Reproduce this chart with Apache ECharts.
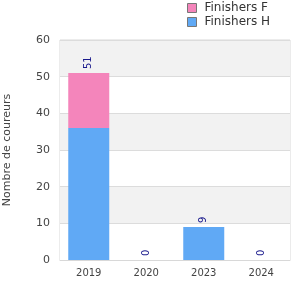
<!DOCTYPE html>
<html>
<head>
<meta charset="utf-8">
<script src="https://cdn.jsdelivr.net/npm/echarts@6/dist/echarts.min.js"></script>
<style>
  html, body { margin: 0; padding: 0; background: #fff; }
  #chart { width: 300px; height: 300px; }
</style>
</head>
<body>
<div id="chart"></div>
<script>
// données
const years = ['2019', '2020', '2023', '2024'];
const finishersH = [36, 0, 9, 0];
const finishersF = [15, 0, 0, 0];
const totals = years.map((y, i) => finishersH[i] + finishersF[i]);

const chart = echarts.init(document.getElementById('chart'));

const option = {
  animation: false,
  textStyle: { fontFamily: 'DejaVu Sans' },
  legend: {
    orient: 'vertical',
    left: 182,
    top: -3,
    icon: 'rect',
    itemWidth: 9,
    itemHeight: 9,
    itemGap: 2,
    textStyle: { fontSize: 12, color: '#333', padding: [0, 0, 0, 3] },
    data: [
      { name: 'Finishers F', itemStyle: { borderColor: '#777', borderWidth: 1 } },
      { name: 'Finishers H', itemStyle: { borderColor: '#777', borderWidth: 1 } }
    ]
  },
  grid: {
    left: 60, right: 10, top: 40, bottom: 40,
    outerBoundsMode: 'none',
    containLabel: false,
    show: true,
    borderColor: '#d8d8d8',
    borderWidth: 1
  },
  xAxis: {
    type: 'category',
    data: years,
    axisLine: { lineStyle: { color: '#d8d8d8' } },
    axisTick: { show: false },
    axisLabel: { color: '#444', fontSize: 10, margin: 8 }
  },
  yAxis: {
    type: 'value',
    min: 0,
    max: 60,
    interval: 10,
    name: 'Nombre de coureurs',
    nameLocation: 'middle',
    nameGap: 47,
    nameTextStyle: { color: '#444', fontSize: 11 },
    axisLabel: { color: '#444', fontSize: 11, margin: 10 },
    axisLine: { show: false },
    splitLine: { lineStyle: { color: '#dcdcdc' } },
    splitArea: { show: true, areaStyle: { color: ['#ffffff', '#f2f2f2'] } }
  },
  series: [
    {
      name: 'Finishers H',
      type: 'bar',
      stack: 'total',
      barWidth: 41,
      data: finishersH,
      itemStyle: { color: '#60a9f5' }
    },
    {
      name: 'Finishers F',
      type: 'bar',
      stack: 'total',
      barWidth: 41,
      data: finishersF,
      itemStyle: { color: '#f485bb' },
      label: {
        show: true,
        position: 'top',
        rotate: 90,
        align: 'left',
        verticalAlign: 'middle',
        distance: 4,
        color: '#1a1a8c',
        fontSize: 10,
        formatter: p => String(totals[p.dataIndex])
      }
    }
  ]
};

chart.setOption(option);
</script>
</body>
</html>
